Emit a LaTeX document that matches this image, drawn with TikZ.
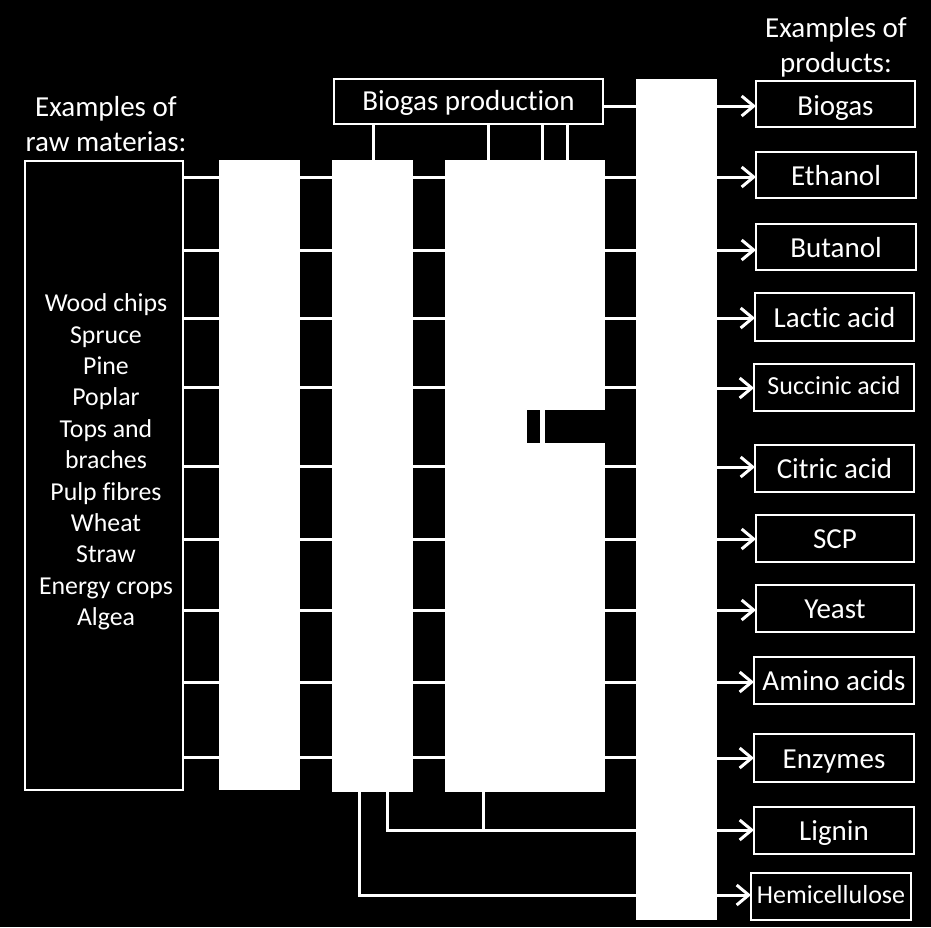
\documentclass[tikz,border=0pt]{standalone}
\usepackage{fontspec}
\setmainfont[Ligatures={NoCommon}]{Carlito}
\usetikzlibrary{arrows.meta}
\pgfdeclarelayer{back}
\pgfdeclarelayer{wires}
\pgfsetlayers{back,wires,main}
\begin{document}
\begin{tikzpicture}[x=1pt,y=-1pt,
  wire/.style={draw=white,line width=3pt},
  arr/.style={wire,-{Straight Barb[length=12pt,width=20pt]}},
  col/.style={fill=white,inner sep=0pt,outer sep=0pt,anchor=north west},
  box/.style={draw=white,fill=black,line width=2.5pt,inner sep=0pt,outer sep=0pt,anchor=north west,text=white,text height=20pt,text depth=0pt,font=\fontsize{29}{35}\selectfont},
  lbl/.style={text=white,align=center,inner sep=0pt,font=\fontsize{29}{35}\selectfont},
  small/.style={font=\fontsize{26}{31}\selectfont,text height=14pt}]
\useasboundingbox (0,0) rectangle (931,927);
\begin{pgfonlayer}{back}
  \fill[black] (0,0) rectangle (931,927);
\end{pgfonlayer}

% raw materials box
\node[box,minimum width=158,minimum height=629] (raw) at (25,161) {};
% process columns
\node[col,minimum width=81,minimum height=630] (c1) at (219,160) {};
\node[col,minimum width=81,minimum height=632] (c2) at (332,160) {};
\node[col,minimum width=160,minimum height=632] (c3) at (445,160) {};
\node[col,minimum width=81,minimum height=841] (c4) at (636,79) {};
% notches in column 3
\fill[black] (527,410) rectangle (540,443);
\fill[black] (545,410) rectangle (606,443);

% biogas production
\node[box,minimum width=269,minimum height=45,text height=18pt] (bp) at (334,79) {Biogas production};

% product boxes
\node[box,minimum width=159,minimum height=46,text height=22pt] (p1) at (756,81) {Biogas};
\node[box,minimum width=160,minimum height=46] (p2) at (756,152) {Ethanol};
\node[box,minimum width=160,minimum height=46] (p3) at (756,224) {Butanol};
\node[box,minimum width=159,minimum height=48] (p4) at (755,293) {Lactic acid};
\node[box,small,minimum width=160,minimum height=47] (p5) at (754,364) {Succinic acid};
\node[box,minimum width=159,minimum height=47] (p6) at (755,445) {Citric acid};
\node[box,minimum width=158,minimum height=47] (p7) at (756,515) {SCP};
\node[box,minimum width=158,minimum height=47] (p8) at (756,585) {Yeast};
\node[box,minimum width=160,minimum height=47] (p9) at (754,657) {Amino acids};
\node[box,minimum width=160,minimum height=48] (p10) at (754,734) {Enzymes};
\node[box,minimum width=160,minimum height=47] (p11) at (754,807) {Lignin};
\node[box,small,minimum width=160,minimum height=47] (p12) at (751,873) {Hemicellulose};

% titles and list
\node[lbl] (tl) at (106,124) {Examples of\\raw materias:};
\node[lbl] (tr) at (836,47) {Examples of\\products:};
\node[lbl,font=\fontsize{25.8}{31.4}\selectfont] (list) at (106,462)
  {Wood chips\\Spruce\\Pine\\Poplar\\Tops and\\braches\\Pulp fibres\\Wheat\\Straw\\Energy crops\\Algea};

\begin{pgfonlayer}{wires}
  \foreach \y in {177,250,318,387,466,539,610,682,757}
    \draw[wire] (raw.east |- 0,\y) -- (c4.west |- 0,\y);
  \draw[wire] (bp.east |- 0,106) -- (c4.west |- 0,106);
  \foreach \x in {373,488,542,567}
    \draw[wire] (bp.south -| \x,0) -- (c2.north -| \x,0);
  \draw[wire] (c2.south -| 359,0) |- (c4.west |- 0,895);
  \draw[wire] (c2.south -| 387,0) |- (c4.west |- 0,830);
  \draw[wire] (c3.south -| 483,0) -- (483,830);
\end{pgfonlayer}

\foreach \y/\p in {106/p1,177/p2,250/p3,318/p4,388/p5,467/p6,539/p7,610/p8,682/p9,758/p10,830/p11,895/p12}
  \draw[arr] (c4.east |- 0,\y) -- (\p.west |- 0,\y);
\end{tikzpicture}
\end{document}
